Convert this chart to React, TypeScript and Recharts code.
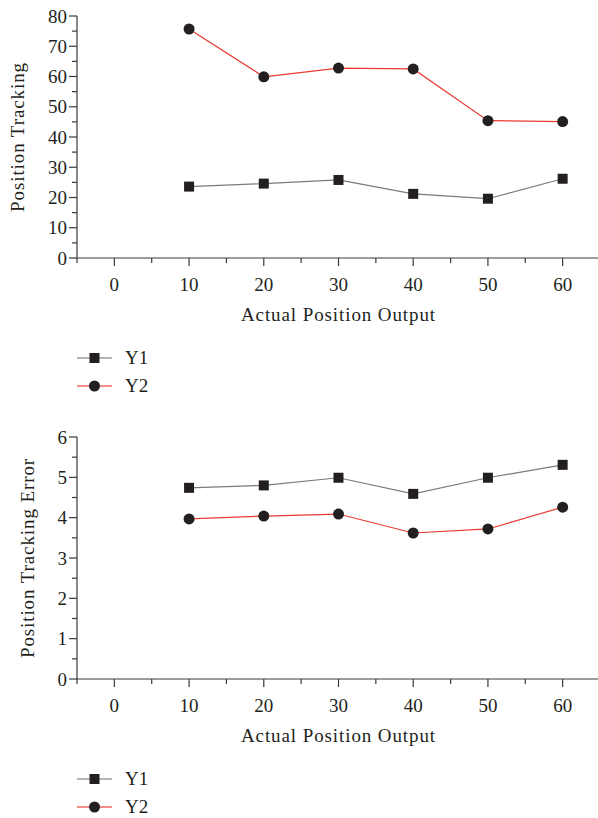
import React from 'react';
import { LineChart, Line, XAxis, YAxis, Legend } from 'recharts';

const xValues = [10, 20, 30, 40, 50, 60];
const trackY1 = [23.6, 24.6, 25.8, 21.2, 19.6, 26.2];
const trackY2 = [75.7, 59.9, 62.8, 62.5, 45.4, 45.1];
const errorY1 = [4.74, 4.8, 4.99, 4.59, 4.99, 5.31];
const errorY2 = [3.97, 4.04, 4.09, 3.62, 3.72, 4.26];

const xTicks = [-5, 0, 5, 10, 15, 20, 25, 30, 35, 40, 45, 50, 55, 60, 65];
const trackTicks = [0, 5, 10, 15, 20, 25, 30, 35, 40, 45, 50, 55, 60, 65, 70, 75, 80];
const errorTicks = [0, 0.5, 1, 1.5, 2, 2.5, 3, 3.5, 4, 4.5, 5, 5.5, 6];

const seriesNames = ['Y1', 'Y2'];
const xTitle = 'Actual Position Output';
const trackTitle = 'Position Tracking';
const errorTitle = 'Position Tracking Error';

const trackData = xValues.map((x, i) => ({ x, Y1: trackY1[i], Y2: trackY2[i] }));
const errorData = xValues.map((x, i) => ({ x, Y1: errorY1[i], Y2: errorY2[i] }));

const FONT = '"Liberation Serif", "Times New Roman", serif';
const TEXT = '#231f20';
const AXIS = '#3a3a3a';
const GRAY = '#7a7a7a';
const RED = '#ea3a30';
const MARK = '#231f20';
const FS = 19;

const XTick = (props: any) => {
  const { x, y, payload } = props;
  const v = payload.value;
  const major = v % 10 === 0 && v >= 0 && v <= 60;
  return (
    <g>
      <line x1={x} x2={x} y1={y} y2={y + (major ? 8 : 5)} stroke={AXIS} strokeWidth={1.2} />
      {major && (
        <text x={x} y={y + 33} textAnchor="middle" fontFamily={FONT} fontSize={FS} fill={TEXT}>
          {v}
        </text>
      )}
    </g>
  );
};

const makeYTick = (isMajor: (v: number) => boolean) => (props: any) => {
  const { x, y, payload } = props;
  const v = payload.value;
  const major = isMajor(v);
  return (
    <g>
      <line x1={x - (major ? 8 : 5)} x2={x} y1={y} y2={y} stroke={AXIS} strokeWidth={1.2} />
      {major && (
        <text x={x - 10} y={y + 6.5} textAnchor="end" fontFamily={FONT} fontSize={FS} fill={TEXT}>
          {v}
        </text>
      )}
    </g>
  );
};

const trackYTick = makeYTick((v) => v % 10 === 0);
const errorYTick = makeYTick((v) => Number.isInteger(v));

const xTitleContent = (p: any) => {
  const vb = p.viewBox;
  return (
    <text x={vb.x + vb.width / 2} y={vb.y + 63} textAnchor="middle" fontFamily={FONT} fontSize={FS} fill={TEXT} letterSpacing={0.9}>
      {xTitle}
    </text>
  );
};

const yTitleContent = (text: string, bx: number) => (p: any) => {
  const vb = p.viewBox;
  const x = vb.x + bx;
  const y = vb.y + vb.height / 2;
  return (
    <text x={x} y={y} transform={`rotate(-90, ${x}, ${y})`} textAnchor="middle" fontFamily={FONT} fontSize={FS} fill={TEXT} letterSpacing={0.9}>
      {text}
    </text>
  );
};

const SquareDot = (p: any) => {
  if (p.cx == null || p.cy == null) return null;
  return <rect key={`sq-${p.index}`} x={p.cx - 5} y={p.cy - 5} width={10} height={10} fill={MARK} />;
};

const legendContent = (props: any) => {
  const payload = props.payload || [];
  return (
    <div style={{ height: 72, paddingLeft: 77, paddingTop: 16, boxSizing: 'border-box' }}>
      {payload.map((e: any, i: number) => (
        <div key={i} style={{ display: 'flex', alignItems: 'center', height: 28 }}>
          <svg width={35} height={14} style={{ display: 'block' }}>
            <line x1={0} x2={35} y1={7} y2={7} stroke={e.color} strokeOpacity={0.75} strokeWidth={1.5} />
            {e.value === 'Y1' ? (
              <rect x={12.5} y={2} width={10} height={10} fill={MARK} />
            ) : (
              <circle cx={17.5} cy={7} r={5.5} fill={MARK} />
            )}
          </svg>
          <span style={{ marginLeft: 13, fontFamily: FONT, fontSize: FS, color: TEXT, lineHeight: '28px' }}>{e.value}</span>
        </div>
      ))}
    </div>
  );
};

const Panel = ({ data, yDomain, yTicks, yTick, yTitle, yTitleX }: any) => (
  <LineChart width={600} height={421} data={data} margin={{ top: 16, right: 0, bottom: 21, left: 0 }}>
    <XAxis
      dataKey="x"
      type="number"
      domain={[-5, 65]}
      ticks={xTicks}
      interval={0}
      allowDataOverflow
      tickLine={false}
      tickSize={0}
      tickMargin={0}
      tick={XTick}
      height={70}
      axisLine={{ stroke: AXIS, strokeWidth: 1.2 }}
      label={{ content: xTitleContent }}
    />
    <XAxis
      xAxisId="top"
      orientation="top"
      dataKey="x"
      type="number"
      domain={[-5, 65]}
      height={0}
      tick={false}
      tickLine={false}
      axisLine={{ stroke: AXIS, strokeWidth: 1.2 }}
    />
    <YAxis
      type="number"
      domain={yDomain}
      ticks={yTicks}
      interval={0}
      allowDataOverflow
      tickLine={false}
      tickSize={0}
      tickMargin={0}
      tick={yTick}
      width={77}
      axisLine={{ stroke: AXIS, strokeWidth: 1.2 }}
      label={{ content: yTitleContent(yTitle, yTitleX) }}
    />
    <Legend verticalAlign="bottom" align="left" content={legendContent} wrapperStyle={{ left: 0, width: 200 }} />
    <Line
      dataKey="Y1"
      name={seriesNames[0]}
      stroke={GRAY}
      strokeWidth={1.2}
      dot={SquareDot}
      activeDot={false}
      isAnimationActive={false}
    />
    <Line
      dataKey="Y2"
      name={seriesNames[1]}
      stroke={RED}
      strokeWidth={1.2}
      dot={{ r: 5.5, fill: MARK, stroke: 'none' }}
      activeDot={false}
      isAnimationActive={false}
    />
  </LineChart>
);

export default function App() {
  return (
    <div style={{ position: 'absolute', left: 0, top: 0, width: 600, background: '#fff' }}>
      <Panel data={trackData} yDomain={[0, 80]} yTicks={trackTicks} yTick={trackYTick} yTitle={trackTitle} yTitleX={24} />
      <Panel data={errorData} yDomain={[0, 6]} yTicks={errorTicks} yTick={errorYTick} yTitle={errorTitle} yTitleX={34} />
    </div>
  );
}
